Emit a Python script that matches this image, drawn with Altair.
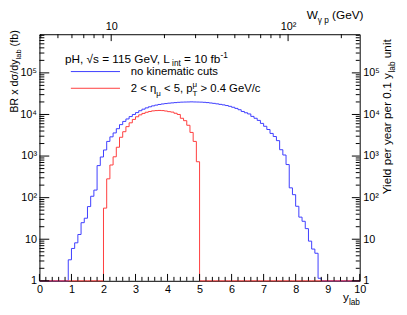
import altair as alt
import pandas as pd

# ---------------- data ----------------
# histogram bins of 0.1 in y_lab, from 0 to 10
n_bins = 100
bin_width = 0.1
blue_first_bin = 9      # first non-empty bin starts at y_lab = 0.9
blue_vals = [3.2, 6.0, 8.2, 13, 25, 32, 61, 108, 152, 590, 950, 1400, 2250, 2900,
             3600, 4550, 5700, 6800, 7800, 8900, 10000, 11100, 12300, 13400, 14400,
             15300, 16100, 16800, 17400, 17900, 18300, 18700, 19000, 19300, 19600,
             19800, 19900, 20000, 20100, 20000, 19900, 19800, 19600, 19300, 18900,
             18500, 18000, 17500, 17000, 16400, 15700, 14900, 14000, 13000, 11800,
             11000, 10300, 9000, 8100, 7200, 6100, 5200, 4350, 3500, 2950, 2350,
             1420, 1060, 625, 172, 118, 62, 34, 27, 18, 9, 5.8, 4.6, 1.15]
red_first_bin = 20      # starts at y_lab = 2.0
red_vals = [56, 283, 610, 960, 1630, 2830, 3850, 5100, 6300, 7600, 8800, 9800,
            10600, 11300, 11800, 12200, 12400, 12500, 12400, 12100, 11700, 11400,
            10700, 10000, 8100, 7100, 5500, 3700, 2250, 730]

y_domain = [1, 8.5e5]
x_domain = [0, 10]
w_domain = [3.93, 254]

x_major = list(range(0, 11))
x_minor = [i / 5 for i in range(0, 51) if i % 5 != 0]
y_major = [1, 10, 100, 1000, 10000, 100000]
y_minor = [m * 10 ** k for k in range(0, 6) for m in range(2, 10) if m * 10 ** k < y_domain[1]]
w_major = [10, 100]
w_minor = [m * 10 ** k for k in range(0, 3) for m in range(2, 10)
           if w_domain[0] < m * 10 ** k < w_domain[1]]

BLUE = "#3c3cff"
RED = "#ff3c3c"
FONT = "Liberation Sans"
W, H = 326, 251


def hist_frame(first, vals):
    full = [1.0] * n_bins          # empty bins are drawn on the frame bottom
    for k, v in enumerate(vals):
        full[first + k] = v
    edges = [round(i * bin_width, 1) for i in range(n_bins + 1)]
    return pd.DataFrame({"x": edges, "v": full + [full[-1]]})


xs = alt.Scale(domain=x_domain, nice=False, zero=False)
ys = alt.Scale(type="log", domain=y_domain, nice=False)
ws = alt.Scale(type="log", domain=w_domain, nice=False)

blue = alt.Chart(hist_frame(blue_first_bin, blue_vals)).mark_line(
    interpolate="step-after", color=BLUE, strokeWidth=1).encode(
    x=alt.X("x:Q", scale=xs, axis=None), y=alt.Y("v:Q", scale=ys, axis=None))
red = alt.Chart(hist_frame(red_first_bin, red_vals)).mark_line(
    interpolate="step-after", color=RED, strokeWidth=1).encode(
    x=alt.X("x:Q", scale=xs, axis=None), y=alt.Y("v:Q", scale=ys, axis=None))

lab_common = dict(ticks=False, tickSize=0, domain=False, grid=False, title=None,
                  labelOverlap=False, labelFlush=False, labelPadding=3)
ylab_expr = ("datum.value == 1 ? '1' : datum.value == 10 ? '10' : datum.value == 100 ? '10\u00b2'"
             " : datum.value == 1000 ? '10\u00b3' : datum.value == 10000 ? '10\u2074' : '10\u2075'")


def yticks(vals, x0, x1, axis=None):
    return alt.Chart(pd.DataFrame({"v": vals})).mark_rule(color="black", strokeWidth=1).encode(
        y=alt.Y("v:Q", scale=ys, axis=axis), x=alt.value(x0), x2=alt.value(x1))


def xticks(vals, scale, y0, y1, axis=None):
    return alt.Chart(pd.DataFrame({"v": vals})).mark_rule(color="black", strokeWidth=1).encode(
        x=alt.X("v:Q", scale=scale, axis=axis), y=alt.value(y0), y2=alt.value(y1))


tick_layers = [
    yticks(y_major, 0, 10, alt.Axis(orient="left", values=y_major, labelExpr=ylab_expr, **lab_common)),
    yticks(y_minor, 0, 5),
    yticks(y_major, W - 8, W, alt.Axis(orient="right", values=y_major, labelExpr=ylab_expr, **lab_common)),
    yticks(y_minor, W - 4, W),
    xticks(x_major, xs, H, H - 7, alt.Axis(orient="bottom", values=x_major, format="d", **lab_common)),
    xticks(x_minor, xs, H, H - 4),
    xticks(w_major, ws, 0, 7, alt.Axis(orient="top", values=w_major,
                                       labelExpr="datum.value == 10 ? '10' : '10\u00b2'", **lab_common)),
    xticks(w_minor, ws, 0, 4),
]

# ---------------- rich text helpers ----------------
CW = {' ': .278, ',': .278, '.': .278, '/': .278, '(': .333, ')': .333, '-': .333,
      '<': .584, '>': .584, '=': .584, 'a': .556, 'b': .556, 'c': .5, 'd': .556,
      'e': .556, 'f': .278, 'i': .222, 'k': .5, 'l': .222, 'm': .833, 'n': .556,
      'o': .556, 'p': .556, 'r': .333, 's': .5, 't': .278, 'u': .556, 'x': .5,
      'y': .5, 'B': .667, 'G': .778, 'H': .722, 'L': .556, 'R': .722, 'T': .611,
      'V': .667, 'W': .944, 'Y': .667, '\u03c3': .6, '\u03b7': .56, '\u03bc': .58,
      '\u03b3': .5, '\u221a': .55}


def tw(s, size):
    return sum(CW.get(ch, .556) for ch in s) * size


one = pd.DataFrame({"a": [0]})


def rich(pieces, x, y, size, angle=0, color="black"):
    out = []
    adv = 0.0
    for txt, kind in pieces:
        if kind == "n":
            fs, off, move = size, 0.0, True
        elif kind == "sub":
            fs, off, move = size * 0.7, size * 0.3, True
        elif kind == "sup":
            fs, off, move = size * 0.7, -size * 0.42, True
        else:  # superscript stacked over the following subscript
            fs, off, move = size * 0.7, -size * 0.42, False
        # SVG drops leading/trailing blanks: advance for them explicitly
        lead = len(txt) - len(txt.lstrip(" "))
        adv += tw(" " * lead, fs)
        body = txt.strip(" ")
        trail = len(txt.lstrip(" ")) - len(body)
        if angle == 270:
            px, py = x + off, y - adv
        else:
            px, py = x + adv, y + off
        props = dict(text=body, fontSize=fs, font=FONT, align="left",
                     baseline="alphabetic", color=color)
        if angle:
            props["angle"] = angle
        out.append(alt.Chart(one).mark_text(**props).encode(x=alt.value(px), y=alt.value(py)))
        if move:
            adv += tw(body, fs) + tw(" " * trail, fs)
    return out


text_layers = []
text_layers += rich([("BR x d\u03c3/dy", "n"), ("lab", "sub"), (" (fb)", "n")], -22, 80, 11, angle=270)
text_layers += rich([("Yield per year per 0.1 y", "n"), ("lab", "sub"), (" unit", "n")], 358, 163, 12, angle=270)
text_layers += rich([("W", "n"), ("\u03b3 p", "sub"), (" (GeV)", "n")], 272, -15, 12)
text_layers += rich([("y", "n"), ("lab", "sub")], 309, 272, 12)
text_layers += rich([("pH, \u221as = 115 GeV, L", "n"), ("int", "sub"), (" = 10 fb", "n"), ("-1", "sup")], 26, 29, 12)
text_layers += rich([("no kinematic cuts", "n")], 93, 42, 11.5)
text_layers += rich([("2 < \u03b7", "n"), ("\u03bc", "sub"), (" < 5, p", "n"), ("\u03bc", "supstack"),
                     ("T", "sub"), (" > 0.4 GeV/c", "n")], 93, 59, 11.5)

legend_lines = [
    alt.Chart(one).mark_rule(color=BLUE, strokeWidth=1).encode(
        x=alt.value(32), x2=alt.value(82), y=alt.value(38)),
    alt.Chart(one).mark_rule(color=RED, strokeWidth=1).encode(
        x=alt.value(32), x2=alt.value(82), y=alt.value(55)),
]

chart = alt.layer(blue, red, *tick_layers, *legend_lines, *text_layers).resolve_scale(
    x="independent").resolve_axis(x="independent", y="independent").properties(
    width=W, height=H, autosize=alt.AutoSizeParams(type="none"),
    padding={"left": 32, "top": 24, "right": 40, "bottom": 27},
    background="white",
).configure_view(stroke="black", strokeWidth=1).configure_axis(
    labelFont=FONT, labelFontSize=11, labelColor="black")

chart.save("out.html", embed_options={"renderer": "svg", "actions": False})
